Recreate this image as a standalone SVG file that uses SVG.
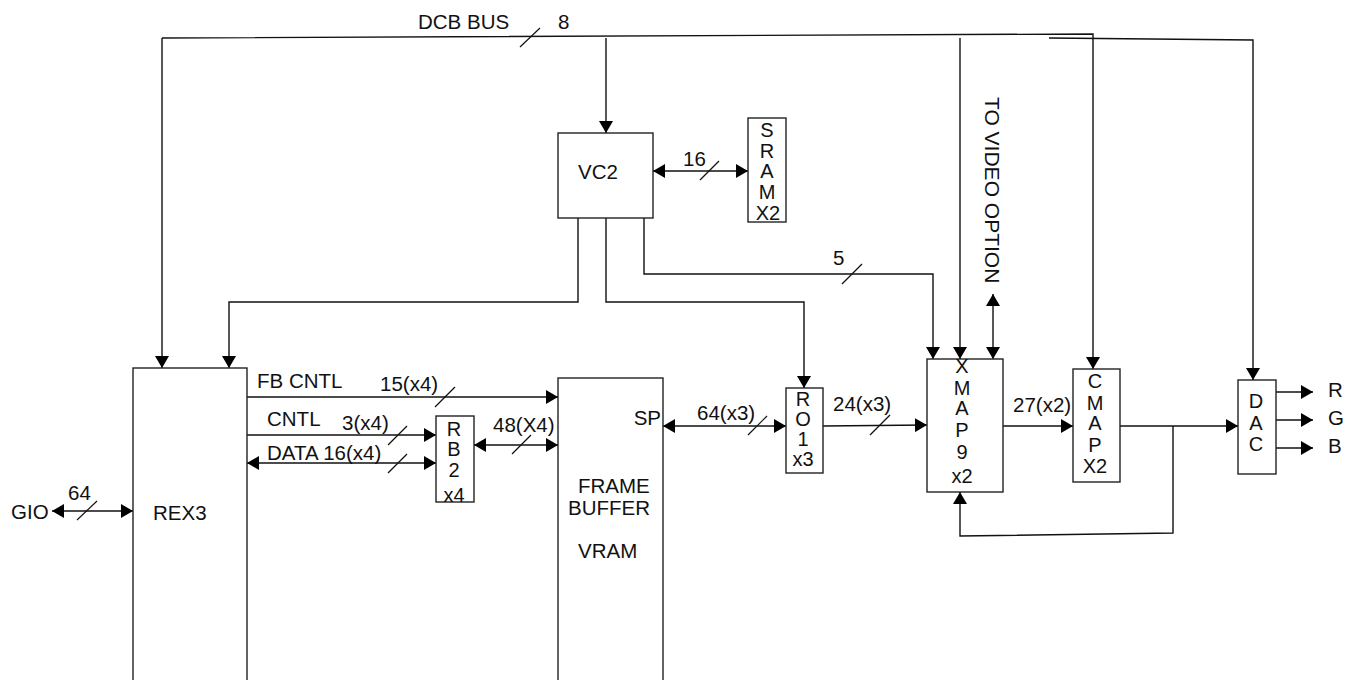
<svg xmlns="http://www.w3.org/2000/svg" width="1350" height="680" viewBox="0 0 1350 680">
<style>
.box{fill:#fff;stroke:#222;stroke-width:1.4}
.ln{fill:none;stroke:#111;stroke-width:1.4}
.sl{stroke:#111;stroke-width:1.2}
text{font-family:"Liberation Sans",Arial,sans-serif;font-size:20.5px;fill:#111}
.c{text-anchor:middle;font-size:20px}
</style>
<defs>
<marker id="ah" viewBox="0 0 12 14" markerWidth="12" markerHeight="14" refX="12" refY="7" orient="auto-start-reverse" markerUnits="userSpaceOnUse">
<path d="M0,0 L12,7 L0,14 z" fill="#000"/>
</marker>
</defs>
<rect width="1350" height="680" fill="#fff"/>
<g id="connectors">
<path class="ln" d="M162,38 L1093,34 L1093,369" marker-end="url(#ah)"/>
<path class="ln" d="M162,38 L162,368" marker-end="url(#ah)"/>
<path class="ln" d="M606,38 L606,133" marker-end="url(#ah)"/>
<path class="ln" d="M960,38 L960,359" marker-end="url(#ah)"/>
<path class="ln" d="M1049,38 L1253,40 L1253,380" marker-end="url(#ah)"/>
<path class="ln" d="M653,171 L748,171" marker-start="url(#ah)" marker-end="url(#ah)"/>
<path class="ln" d="M578,218 L578,302 L229,302 L229,368" marker-end="url(#ah)"/>
<path class="ln" d="M606,218 L606,302 L804,302 L804,388" marker-end="url(#ah)"/>
<path class="ln" d="M644,218 L644,274 L933,274 L933,359" marker-end="url(#ah)"/>
<path class="ln" d="M993,294 L993,359" marker-start="url(#ah)" marker-end="url(#ah)"/>
<path class="ln" d="M247,397 L558,397" marker-end="url(#ah)"/>
<path class="ln" d="M247,435 L436,435" marker-end="url(#ah)"/>
<path class="ln" d="M247,463 L436,463" marker-start="url(#ah)" marker-end="url(#ah)"/>
<path class="ln" d="M52,511 L133,511" marker-start="url(#ah)" marker-end="url(#ah)"/>
<path class="ln" d="M474,445 L558,445" marker-start="url(#ah)" marker-end="url(#ah)"/>
<path class="ln" d="M663,426 L786,426" marker-start="url(#ah)" marker-end="url(#ah)"/>
<path class="ln" d="M823,426 L927,425" marker-end="url(#ah)"/>
<path class="ln" d="M1003,426 L1073,426" marker-end="url(#ah)"/>
<path class="ln" d="M1120,426 L1238,426" marker-end="url(#ah)"/>
<path class="ln" d="M1173,426 L1173,533 L960,536 L960,492" marker-end="url(#ah)"/>
<path class="ln" d="M1276,392 L1313,392" marker-end="url(#ah)"/>
<path class="ln" d="M1276,420 L1313,420" marker-end="url(#ah)"/>
<path class="ln" d="M1276,448 L1313,448" marker-end="url(#ah)"/>
<line class="sl" x1="520" y1="47" x2="540" y2="28"/>
<line class="sl" x1="700" y1="180" x2="719" y2="161"/>
<line class="sl" x1="842" y1="284" x2="862" y2="264"/>
<line class="sl" x1="435" y1="407" x2="455" y2="387"/>
<line class="sl" x1="388" y1="445" x2="407" y2="426"/>
<line class="sl" x1="388" y1="473" x2="407" y2="454"/>
<line class="sl" x1="512" y1="454" x2="531" y2="435"/>
<line class="sl" x1="748" y1="435" x2="767" y2="416"/>
<line class="sl" x1="870" y1="435" x2="890" y2="415"/>
<line class="sl" x1="77" y1="520" x2="97" y2="501"/>
<text x="418" y="29">DCB BUS</text>
<text x="558" y="29">8</text>
<text x="683" y="166">16</text>
<text x="833" y="265">5</text>
<text x="257" y="388">FB CNTL</text>
<text x="380" y="391">15(x4)</text>
<text x="267" y="426">CNTL</text>
<text x="342" y="430">3(x4)</text>
<text x="267" y="460">DATA 16(x4)</text>
<text x="68" y="500">64</text>
<text x="11" y="519">GIO</text>
<text x="493" y="432">48(X4)</text>
<text x="697" y="420">64(x3)</text>
<text x="833" y="411">24(x3)</text>
<text x="1013" y="412">27(x2)</text>
<text x="1328" y="397">R</text>
<text x="1328" y="425">G</text>
<text x="1328" y="453">B</text>
<text transform="translate(985,97) rotate(90)" style="font-size:21px">TO VIDEO OPTION</text>
</g>
<g id="vc2">
<rect class="box" x="558" y="133" width="95" height="85"/>
<text x="578" y="179">VC2</text>
</g>
<g id="sram">
<rect class="box" x="748" y="118" width="38" height="104"/>
<text class="c" x="767" y="137">S</text>
<text class="c" x="767" y="158">R</text>
<text class="c" x="767" y="178">A</text>
<text class="c" x="767" y="199">M</text>
<text class="c" x="768" y="220">X2</text>
</g>
<g id="rex3">
<rect class="box" x="133" y="368" width="114" height="330"/>
<text x="153" y="520">REX3</text>
</g>
<g id="rb2">
<rect class="box" x="436" y="416" width="38" height="86"/>
<text class="c" x="454" y="436">R</text>
<text class="c" x="454" y="456">B</text>
<text class="c" x="454" y="477">2</text>
<text class="c" x="454" y="502">x4</text>
</g>
<g id="framebuffer">
<rect class="box" x="558" y="378" width="105" height="320"/>
<text x="661" y="425" text-anchor="end">SP</text>
<text x="578" y="493">FRAME</text>
<text x="568" y="515">BUFFER</text>
<text x="578" y="558">VRAM</text>
</g>
<g id="ro1">
<rect class="box" x="786" y="388" width="37" height="85"/>
<text class="c" x="803" y="406">R</text>
<text class="c" x="803" y="426">O</text>
<text class="c" x="803" y="446">1</text>
<text class="c" x="803" y="466">x3</text>
</g>
<g id="xmap">
<rect class="box" x="927" y="359" width="76" height="133"/>
<text class="c" x="962" y="373">X</text>
<text class="c" x="962" y="395">M</text>
<text class="c" x="962" y="415">A</text>
<text class="c" x="962" y="437">P</text>
<text class="c" x="962" y="459">9</text>
<text class="c" x="962" y="483">x2</text>
</g>
<g id="cmap">
<rect class="box" x="1073" y="369" width="47" height="113"/>
<text class="c" x="1095" y="388">C</text>
<text class="c" x="1095" y="410">M</text>
<text class="c" x="1095" y="430">A</text>
<text class="c" x="1095" y="452">P</text>
<text class="c" x="1095" y="473">X2</text>
</g>
<g id="dac">
<rect class="box" x="1238" y="380" width="38" height="94"/>
<text class="c" x="1256" y="408">D</text>
<text class="c" x="1256" y="430">A</text>
<text class="c" x="1256" y="451">C</text>
</g>
</svg>
